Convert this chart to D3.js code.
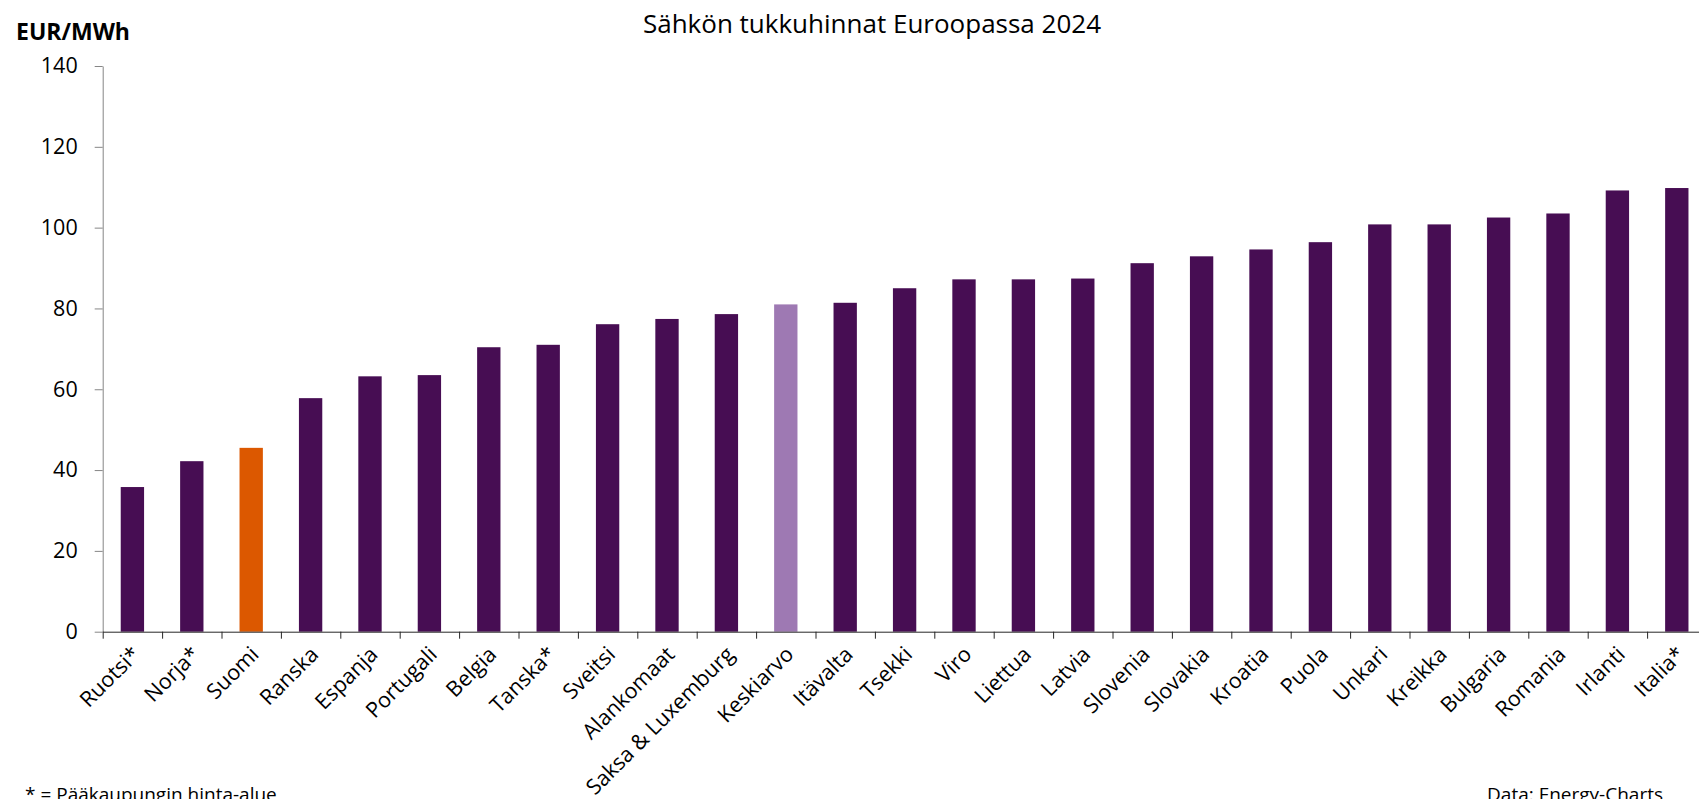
<!DOCTYPE html>
<html lang="fi">
<head>
  <meta charset="UTF-8">
  <title>Sähkön tukkuhinnat Euroopassa 2024</title>
  <script src="https://d3js.org/d3.v7.min.js"></script>
  <style>
    body {
      margin: 0;
      background: #fff;
      font-family: 'Open Sans', sans-serif;
      overflow: hidden;
    }
    svg text {
      fill: #000;
    }
    .y-axis path, .y-axis line {
      stroke: #868686;
    }
    .x-axis path, .x-axis line {
      stroke: #262626;
    }
  </style>
</head>
<body>
  <svg width="1699" height="799"></svg>

  <script>
    // data
    let countries = ['Ruotsi*', 'Norja*', 'Suomi', 'Ranska', 'Espanja', 'Portugali', 'Belgia', 'Tanska*',
      'Sveitsi', 'Alankomaat', 'Saksa & Luxemburg', 'Keskiarvo', 'Itävalta', 'Tsekki', 'Viro', 'Liettua',
      'Latvia', 'Slovenia', 'Slovakia', 'Kroatia', 'Puola', 'Unkari', 'Kreikka', 'Bulgaria', 'Romania',
      'Irlanti', 'Italia*'];
    let prices = [35.8, 42.2, 45.5, 57.8, 63.2, 63.5, 70.4, 71.0,
      76.1, 77.4, 78.6, 81.0, 81.4, 85.0, 87.2, 87.2,
      87.4, 91.2, 92.9, 94.6, 96.4, 100.8, 100.8, 102.5, 103.5,
      109.2, 109.8];
    let yTicks = [0, 20, 40, 60, 80, 100, 120, 140];

    let width = 1699, height = 799;
    let margin = { top: 66, left: 102.7, bottom: 799 - 631.7 };
    let step = 59.4;
    let plotWidth = step * countries.length;
    let plotHeight = height - margin.top - margin.bottom;

    let svg = d3.select('svg');

    let chart = svg.append('g')
      .attr('transform', `translate(${margin.left},${margin.top})`);

    let x = d3.scaleBand()
      .domain(countries)
      .range([0, plotWidth])
      .paddingInner(0.607)
      .paddingOuter(0.3035);

    let y = d3.scaleLinear()
      .domain([0, 140])
      .range([plotHeight, 0]);

    function barColor(name) {
      if (name === 'Suomi') return '#dc5800';
      if (name === 'Keskiarvo') return '#9e79b3';
      return '#470d53';
    }

    chart.selectAll('.bar')
      .data(countries)
      .enter().append('rect')
      .attr('class', 'bar')
      .attr('x', d => x(d))
      .attr('y', (d, i) => y(prices[i]))
      .attr('width', x.bandwidth())
      .attr('height', (d, i) => plotHeight - y(prices[i]))
      .attr('fill', d => barColor(d));

    // y axis
    let yAxis = chart.append('g')
      .attr('class', 'y-axis')
      .call(d3.axisLeft(y).tickValues(yTicks).tickSize(8).tickPadding(17).tickSizeOuter(0));
    yAxis.selectAll('text')
      .style('font-family', "'Open Sans', sans-serif")
      .style('font-size', '21.5px');

    // x axis: ticks between categories
    let xEdges = d3.scaleLinear().domain([0, countries.length]).range([0, plotWidth]);
    chart.append('g')
      .attr('class', 'x-axis')
      .attr('transform', `translate(0,${plotHeight})`)
      .call(d3.axisBottom(xEdges).tickValues(d3.range(0, countries.length + 1)).tickFormat('').tickSize(7).tickSizeOuter(0));

    // category labels, rotated
    let xLabels = chart.append('g')
      .attr('class', 'x-labels')
      .attr('transform', `translate(0,${plotHeight})`)
      .call(d3.axisBottom(x).tickSize(0));
    xLabels.select('.domain').remove();
    xLabels.selectAll('text')
      .attr('y', 0)
      .attr('dy', 0)
      .attr('transform', 'translate(9,24) rotate(-45)')
      .style('text-anchor', 'end')
      .style('font-family', "'Open Sans', sans-serif")
      .style('font-size', '21.5px');

    // titles and notes
    svg.append('text')
      .attr('x', 872)
      .attr('y', 33)
      .attr('text-anchor', 'middle')
      .style('font-size', '26px')
      .text('Sähkön tukkuhinnat Euroopassa 2024');

    svg.append('text')
      .attr('x', 16)
      .attr('y', 40)
      .style('font-size', '23px')
      .style('font-weight', 'bold')
      .text('EUR/MWh');

    svg.append('text')
      .attr('x', 25)
      .attr('y', 801)
      .style('font-size', '19px')
      .text('* = Pääkaupungin hinta-alue');

    svg.append('text')
      .attr('x', 1663)
      .attr('y', 801)
      .attr('text-anchor', 'end')
      .style('font-size', '19px')
      .text('Data: Energy-Charts');
  </script>
</body>
</html>
